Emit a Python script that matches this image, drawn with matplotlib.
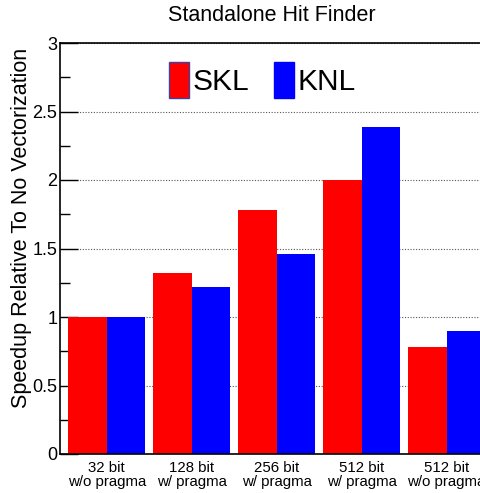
import numpy as np
import matplotlib.pyplot as plt
from matplotlib.patches import Patch
from matplotlib.ticker import MultipleLocator, FormatStrFormatter

plt.rcParams['font.family'] = ['Liberation Sans', 'DejaVu Sans']

# データ
categories = ["32 bit\nw/o pragma", "128 bit\nw/ pragma", "256 bit\nw/ pragma",
              "512 bit\nw/ pragma", "512 bit\nw/o pragma"]
skl = [1.00, 1.32, 1.78, 2.00, 0.78]
knl = [1.00, 1.22, 1.46, 2.39, 0.90]

fig = plt.figure(figsize=(4.81, 4.93), dpi=100)
ax = fig.add_axes([60/481, 39/493, 424/481, 411/493])

x = np.arange(len(categories))
w = 0.45
ax.bar(x - w/2, skl, width=w, color='#ff0000', linewidth=0)
ax.bar(x + w/2, knl, width=w, color='#0000ff', linewidth=0)

ax.set_xlim(-0.549, 4.44)
ax.set_ylim(0, 3)
ax.set_axisbelow(True)

# 軸・目盛り
ax.yaxis.set_major_locator(MultipleLocator(0.5))
ax.yaxis.set_minor_locator(MultipleLocator(0.25))
ax.yaxis.set_major_formatter(FormatStrFormatter('%g'))
ax.tick_params(axis='y', which='major', direction='in', length=13, width=1,
               labelsize=13, pad=2)
ax.tick_params(axis='y', which='minor', direction='in', length=7, width=1)
ax.set_xticks(x)
ax.set_xticklabels(categories, fontsize=10.8, linespacing=1.05)
ax.tick_params(axis='x', length=0, pad=5)

ax.grid(True, axis='y', which='major', linestyle=(0, (1, 1.5)),
        linewidth=0.8, color='#555555')
for s in ['left', 'bottom', 'top']:
    ax.spines[s].set_linewidth(1.2)
ax.spines['right'].set_visible(False)

ax.set_ylabel("Speedup Relative To No Vectorization", fontsize=15.5)
ax.yaxis.set_label_coords(-0.066, 0.549)
fig.text(272/481, (493-21)/493, "Standalone Hit Finder", fontsize=15.5,
         ha='center', va='baseline')

# 凡例
handles = [Patch(facecolor='#ff0000', edgecolor='#4040a0', linewidth=1),
           Patch(facecolor='#0000ff', edgecolor='#0000ff', linewidth=1)]
ax.legend(handles, ["SKL", "KNL"], loc='center', bbox_to_anchor=(0.477, 0.91),
          ncol=2, frameon=False, fontsize=21.5, handlelength=0.65,
          handleheight=1.5, handletextpad=0.12, columnspacing=0.85,
          borderpad=0.2)

fig.savefig("out.png", dpi=100)
